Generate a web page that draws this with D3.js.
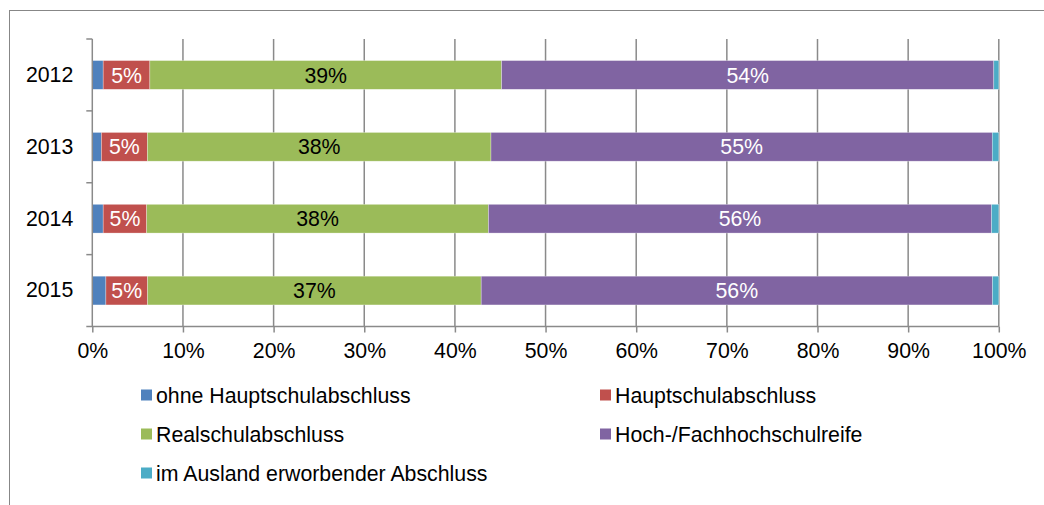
<!DOCTYPE html>
<html><head><meta charset="utf-8">
<script src="https://cdn.jsdelivr.net/npm/d3@7"></script>
<style>body{margin:0;background:#fff;} svg{display:block;} text{font-family:"Liberation Sans",Arial,sans-serif;}</style>
</head><body><svg id="c" width="1044" height="505"></svg>
<script>
const years = ["2012", "2013", "2014", "2015"];
const seriesNames = ["ohne Hauptschulabschluss", "Hauptschulabschluss", "Realschulabschluss", "Hoch-/Fachhochschulreife", "im Ausland erworbender Abschluss"];
const ohne = [1.2, 1.0, 1.2, 1.5];
const haupt = [5.15, 5.08, 4.8, 4.6];
const real = [38.8, 37.9, 37.7, 36.8];
const hoch = [54.3, 55.3, 55.5, 56.4];
const ausland = [0.55, 0.72, 0.8, 0.7];
const xTicks = [0, 10, 20, 30, 40, 50, 60, 70, 80, 90, 100];
const colors = ["#4F81BD", "#C0504D", "#9BBB59", "#8064A2", "#4BACC6"];
const labelColors = [null, "#fff", "#000", "#fff", null];

const keys = ["ohne", "haupt", "real", "hoch", "ausland"];
const table = years.map((yr, i) => ({year: yr, ohne: ohne[i], haupt: haupt[i], real: real[i], hoch: hoch[i], ausland: ausland[i]}));
const stack = d3.stack().keys(keys)(table);

const svg = d3.select("#c");
const pL = 92.3, pR = 998.8, pT = 39, pB = 326.5;
const fs = "21.3px";
const x = d3.scaleLinear().domain([0, 100]).range([pL, pR]);
const y = d3.scaleBand().domain(years).range([pT, pB]).paddingInner(0.6).paddingOuter(0.3);
const grid = "#8a8a8a";

// frame
svg.append("rect").attr("x", 9.5).attr("y", 10.5).attr("width", 1100).attr("height", 600)
  .attr("fill", "none").attr("stroke", "#878787").attr("stroke-width", 1);

// gridlines
svg.append("g").selectAll("line").data(xTicks.filter(d => d > 0)).join("line")
  .attr("x1", d => x(d)).attr("x2", d => x(d)).attr("y1", pT).attr("y2", pB)
  .attr("stroke", grid).attr("stroke-width", 1.5);

// bars
stack.forEach((s, k) => {
  svg.append("g").selectAll("rect").data(s).join("rect")
    .attr("x", d => x(d[0])).attr("width", d => x(d[1]) - x(d[0]))
    .attr("y", d => y(d.data.year)).attr("height", y.bandwidth())
    .attr("fill", colors[k]).attr("stroke", "rgba(255,255,255,0.5)").attr("stroke-width", 0.6);
  if (labelColors[k]) {
    svg.append("g").selectAll("text").data(s).join("text")
      .attr("x", d => (x(d[0]) + x(d[1])) / 2).attr("y", d => y(d.data.year) + y.bandwidth() / 2)
      .attr("dy", "0.36em").attr("text-anchor", "middle").attr("fill", labelColors[k])
      .style("font-size", fs)
      .text(d => Math.round(d[1] - d[0]) + "%");
  }
});

// x axis
const xa = svg.append("g").attr("transform", `translate(0,${pB})`)
  .call(d3.axisBottom(x).tickValues(xTicks).tickSize(6).tickPadding(10).tickFormat(d => d + "%"));
xa.select(".domain").attr("stroke", grid).attr("stroke-width", 1.5).attr("d", `M${pL - 6},0H${pR}`);
xa.selectAll(".tick line").attr("stroke", grid).attr("stroke-width", 1.5);
xa.selectAll(".tick text").style("font-size", fs).attr("fill", "#000");

// y axis
const ya = svg.append("g").attr("transform", `translate(${pL},0)`)
  .call(d3.axisLeft(y).tickSize(0).tickPadding(19));
ya.select(".domain").attr("stroke", grid).attr("stroke-width", 1.5).attr("d", `M0,${pT}V${pB}`);
ya.selectAll(".tick text").style("font-size", fs).attr("fill", "#000");
const bounds = [0, 1, 2, 3].map(i => y.range()[0] + i * y.step());
svg.append("g").selectAll("line").data(bounds).join("line")
  .attr("x1", pL - 6).attr("x2", pL).attr("y1", d => d).attr("y2", d => d)
  .attr("stroke", grid).attr("stroke-width", 1.5);

// legend
const legPos = [[141, 395], [600, 395], [141, 434], [600, 434], [141, 473]];
const leg = svg.append("g").selectAll("g").data(seriesNames).join("g")
  .attr("transform", (d, i) => `translate(${legPos[i][0]},${legPos[i][1]})`);
leg.append("rect").attr("x", 0).attr("y", -5.5).attr("width", 11).attr("height", 11).attr("fill", (d, i) => colors[i]);
leg.append("text").attr("x", 15).attr("dy", "0.36em").style("font-size", fs).attr("fill", "#000").text(d => d);
</script></body></html>
